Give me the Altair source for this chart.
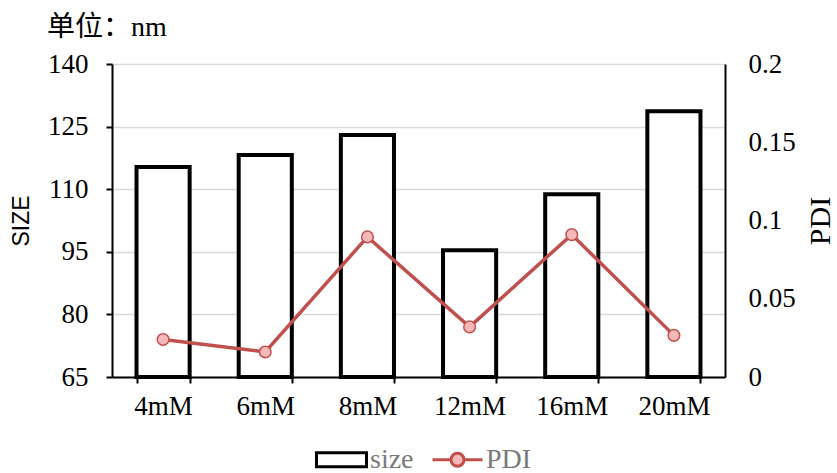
import altair as alt
import pandas as pd

categories = ["4mM", "6mM", "8mM", "12mM", "16mM", "20mM"]
size_values = [115.3, 118.2, 123.0, 95.4, 108.8, 128.7]
pdi_values = [0.024, 0.016, 0.0895, 0.032, 0.091, 0.0266]
series_names = ["size", "PDI"]

df_size = pd.DataFrame({"cat": categories, "value": size_values, "series": "size"})
df_pdi = pd.DataFrame({"cat": categories, "value": pdi_values, "series": "PDI"})
df_legend = pd.DataFrame({"series": series_names})

SERIF = "Liberation Serif"
LINE_C = "#c0504d"
PT_FILL = "#f4b8b8"

x_enc = alt.X(
    "cat:N",
    sort=categories,
    scale=alt.Scale(paddingInner=0.48, paddingOuter=0.24),
    axis=alt.Axis(
        title=None, labelAngle=0, tickBand="extent", grid=False,
        domainColor="black", domainWidth=2, tickColor="black", tickWidth=2,
        tickSize=6, labelPadding=10, labelFont=SERIF, labelFontSize=27,
        labelColor="#000000",
    ),
)

fill_scale = alt.Scale(domain=series_names, range=["white", PT_FILL])
stroke_scale = alt.Scale(domain=series_names, range=["black", LINE_C])
shape_scale = alt.Scale(
    domain=series_names,
    range=[
        "M-1,-0.28H1V0.28H-1Z",
        "M-1,0H-0.26M0.26,0H1M-0.26,0A0.26,0.26 0 1,0 0.26,0A0.26,0.26 0 1,0 -0.26,0",
    ],
)
legend = alt.Legend(
    title=None, orient="none", legendX=203, legendY=369, direction="horizontal",
    symbolSize=2500, symbolStrokeWidth=3, labelFont=SERIF, labelFontSize=28,
    labelColor="#7a7a7a", columnPadding=12, labelOffset=2, symbolOpacity=1,
    padding=0,
)

bars = alt.Chart(df_size).mark_bar(strokeWidth=4).encode(
    x=x_enc,
    y=alt.Y(
        "value:Q",
        scale=alt.Scale(domain=[65, 140], zero=False, nice=False),
        axis=alt.Axis(
            title="SIZE", titleFont="Liberation Sans", titleFontSize=23,
            titleFontWeight="normal", titleColor="black", titlePadding=14,
            titleLimit=500,
            values=[65, 80, 95, 110, 125, 140], labelFont=SERIF, labelFontSize=27,
            labelColor="black", labelPadding=18, tickSize=6, tickColor="black",
            tickWidth=2, domainColor="black", domainWidth=2, grid=True,
            gridColor="#d9d9d9", gridWidth=1.5,
        ),
    ),
    y2=alt.datum(65),
    fill=alt.Fill("series:N", scale=fill_scale, legend=legend),
    stroke=alt.Stroke("series:N", scale=stroke_scale, legend=legend),
)

pdi_y = alt.Y(
    "value:Q",
    scale=alt.Scale(domain=[0, 0.2], nice=False),
    axis=alt.Axis(
        orient="right", title="PDI", titleFont=SERIF, titleFontSize=30,
        titleFontWeight="normal", titleColor="black", titlePadding=10, titleAngle=270,
        titleBaseline="top", titleLimit=500,
        values=[0, 0.05, 0.1, 0.15, 0.2], format="~f", labelFont=SERIF, labelFontSize=27,
        labelColor="black", labelPadding=23, ticks=False, domainColor="black",
        domainWidth=2, grid=False,
    ),
)

line = alt.Chart(df_pdi).mark_line(strokeWidth=3.5, color=LINE_C).encode(
    x=x_enc, y=pdi_y,
)
dots = alt.Chart(df_pdi).mark_circle(size=135, fill=PT_FILL, stroke=LINE_C, strokeWidth=1.5, opacity=1).encode(
    x=x_enc, y=pdi_y,
)
legend_keys = alt.Chart(df_legend).mark_point(filled=True, opacity=0, size=2500).encode(
    shape=alt.Shape("series:N", scale=shape_scale, legend=legend),
    fill=alt.Fill("series:N", scale=fill_scale, legend=legend),
    stroke=alt.Stroke("series:N", scale=stroke_scale, legend=legend),
)

right = alt.layer(line, dots)

chart = alt.layer(bars, right, legend_keys).resolve_scale(y="independent").properties(
    width=613, height=313,
    autosize=alt.AutoSizeParams(type="none"),
    padding={"left": 112, "top": 64, "right": 112, "bottom": 96},
    title=alt.TitleParams(
        text="单位：nm", anchor="start", frame="group", dx=-65, offset=8,
        font="Liberation Serif, Noto Sans CJK SC", fontSize=28, fontWeight="normal",
        color="black",
    ),
).configure_view(stroke=None).configure(background="white")

chart.save("out.html", embed_options={"renderer": "svg", "actions": False})
